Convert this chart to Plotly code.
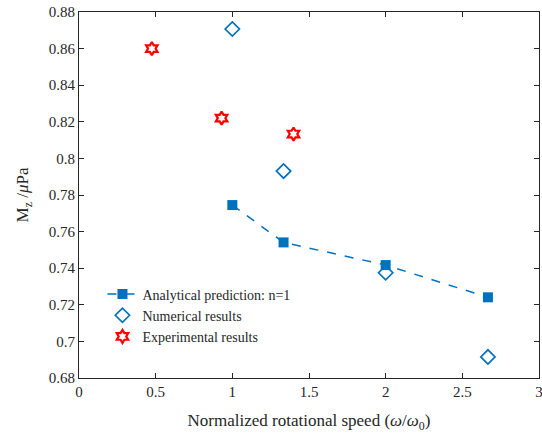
import plotly.graph_objects as go

# Data
ana_x = [1.0, 1.334, 2.0, 2.667]
ana_y = [0.7745, 0.7541, 0.7417, 0.7241]
num_x = [1.0, 1.334, 2.0, 2.667]
num_y = [0.8707, 0.7931, 0.7375, 0.6915]
exp_x = [0.475, 0.930, 1.399]
exp_y = [0.8600, 0.8220, 0.8133]

xticks = [0, 0.5, 1, 1.5, 2, 2.5, 3]
xticklabels = ["0", "0.5", "1", "1.5", "2", "2.5", "3"]
yticks = [0.68, 0.70, 0.72, 0.74, 0.76, 0.78, 0.80, 0.82, 0.84, 0.86, 0.88]
yticklabels = ["0.68", "0.7", "0.72", "0.74", "0.76", "0.78", "0.8", "0.82", "0.84", "0.86", "0.88"]

blue = "#0072BD"
red = "#FF0000"
font = "Liberation Serif"

fig = go.Figure()
fig.add_trace(go.Scatter(
    x=ana_x, y=ana_y, mode="lines+markers", name="Analytical prediction: n=1",
    line=dict(color=blue, width=1.5, dash="dash"),
    marker=dict(symbol="square", size=10, color=blue),
))
fig.add_trace(go.Scatter(
    x=num_x, y=num_y, mode="markers", name="Numerical results",
    marker=dict(symbol="diamond-open", size=11, color=blue, line=dict(width=1.7, color=blue)),
))
fig.add_trace(go.Scatter(
    x=exp_x, y=exp_y, mode="markers", name="Experimental results",
    marker=dict(symbol="hexagram-open", size=10, color=red, line=dict(width=2.2, color=red)),
))

axis_common = dict(
    showline=True, linecolor="#262626", linewidth=1, mirror="ticks",
    ticks="inside", ticklen=5, tickcolor="#262626", showgrid=False, zeroline=False,
    tickfont=dict(family=font, size=15, color="#262626"), automargin=False,
    ticklabeloverflow="allow",
)
fig.update_xaxes(range=[0, 3], tickvals=xticks, ticktext=xticklabels,
                 title=dict(text="Normalized rotational speed (<i>ω</i>/<i>ω</i><sub>0</sub>)",
                            font=dict(family=font, size=17, color="#262626")),
                 **axis_common)
fig.update_yaxes(range=[0.68, 0.88], tickvals=yticks, ticktext=yticklabels,
                 title=dict(text="M<sub>z</sub> /<i>μ</i>Pa",
                            font=dict(family=font, size=17, color="#262626")),
                 **axis_common)

fig.update_layout(
    width=542, height=435,
    margin=dict(l=79, r=3, t=12, b=57),
    paper_bgcolor="white", plot_bgcolor="white",
    font=dict(family=font, size=15, color="#262626"),
    legend=dict(x=0.051, y=0.272, xanchor="left", yanchor="top",
                bgcolor="rgba(0,0,0,0)", font=dict(family=font, size=14, color="#262626"),
                tracegroupgap=0, itemwidth=30),
    showlegend=True,
)

fig.write_html("out.html", config={"displayModeBar": False},
               post_script="document.body.style.margin='0';document.body.style.overflow='hidden';")
